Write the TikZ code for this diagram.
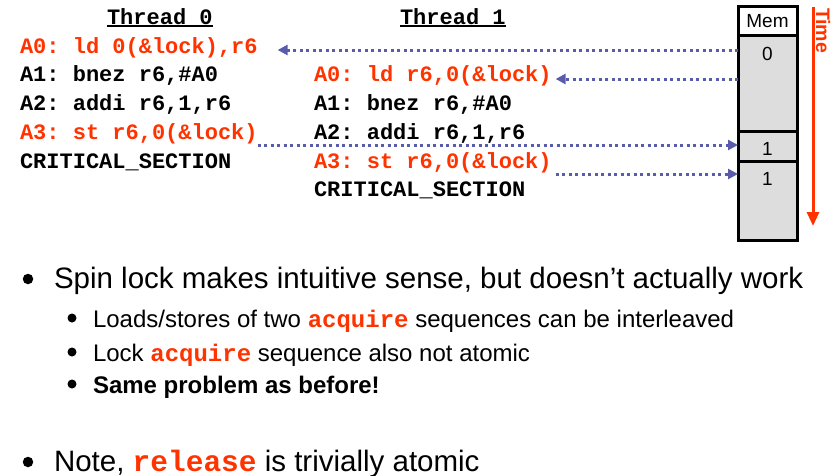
\documentclass[tikz,border=0pt]{standalone}
\usepackage{fontspec}
\setmainfont{Liberation Sans}
\setmonofont{Liberation Mono}
\usetikzlibrary{arrows.meta}

\definecolor{codered}{RGB}{255,51,0}
\definecolor{linkblue}{RGB}{88,92,170}
\definecolor{cellgray}{RGB}{221,221,221}

\newcommand{\kw}[1]{{\ttfamily\bfseries\color{codered}#1}}
\newcommand{\headrule}[1]{\setbox0\hbox{#1}\rlap{\rule[-3pt]{\wd0}{1.8pt}}\box0}

\begin{document}
\begin{tikzpicture}[x=1pt, y=-1pt,
    every node/.style={inner sep=0pt, outer sep=0pt},
    asm/.style={anchor=base west, font=\fontsize{22}{26}\selectfont\ttfamily\bfseries},
    hot/.style={asm, text=codered},
    memcell/.style={draw, line width=3pt, fill=cellgray, minimum width=59pt, anchor=north west},
    memval/.style={font=\fontsize{19}{22}\selectfont},
    memlink/.style={linkblue, line width=3pt, dash pattern=on 3pt off 3.5pt,
        -{Triangle[length=10pt,width=10pt]}},
    bigdot/.style={circle, fill=black, minimum size=10.5pt},
    smalldot/.style={circle, fill=black, minimum size=9pt},
    toptext/.style={anchor=base west, font=\fontsize{29.5}{34}\selectfont},
    subtext/.style={anchor=base west, font=\fontsize{24}{28}\selectfont}
]
\useasboundingbox (0,0) rectangle (840,475);

% thread headings
\node[asm] (h0) at (107,24) {\headrule{Thread 0}};
\node[asm] (h1) at (400,24) {\headrule{Thread 1}};

% thread 0 code
\node[hot] (t0a0) at (20,53) {A0: ld 0(\&lock),r6};
\node[asm] (t0a1) at (20,81.75) {A1: bnez r6,\#A0};
\node[asm] (t0a2) at (20,110.5) {A2: addi r6,1,r6};
\node[hot] (t0a3) at (20,139.25) {A3: st r6,0(\&lock)};
\node[asm] (t0cs) at (20,168) {CRITICAL\_SECTION};

% thread 1 code
\node[hot] (t1a0) at (314,81.75) {A0: ld r6,0(\&lock)};
\node[asm] (t1a1) at (314,110.5) {A1: bnez r6,\#A0};
\node[asm] (t1a2) at (314,139.25) {A2: addi r6,1,r6};
\node[hot] (t1a3) at (314,168) {A3: st r6,0(\&lock)};
\node[asm] (t1cs) at (314,196.75) {CRITICAL\_SECTION};

% memory column
\node[memcell, fill=white, minimum height=29pt, memval, text depth=-2pt] (mhdr) at (738,6) {Mem};
\node[memcell, minimum height=96pt] (m0) at (738,35) {};
\node[memcell, minimum height=30pt] (m1) at (738,131) {};
\node[memcell, minimum height=79pt] (m2) at (738,161) {};
\node[memval] (v0) at (767.5,53.5) {0};
\node[memval] (v1) at (767.5,148.5) {1};
\node[memval] (v2) at (767.5,178.5) {1};

% time axis
\coordinate (tstart) at (813,7);
\coordinate (tend) at (813,226);
\draw[codered, line width=3pt, -{Triangle[length=14pt,width=12pt]}] (tstart) -- (tend);
\node[anchor=base west, rotate=-90, text=codered, font=\fontsize{19.5}{22}\selectfont\bfseries] (tlabel) at (816,8) {Time};

% loads and stores
\coordinate (r0) at (738,50);
\coordinate (r1) at (738,79);
\coordinate (w0) at (738,145);
\coordinate (w1) at (738,174);
\coordinate (in0) at ([xshift=20pt]t0a0.east);
\coordinate (in1) at ([xshift=4pt]t1a0.east);
\coordinate (out1) at ([xshift=4pt]t1a3.east);
\draw[memlink] (r0) -- (in0 |- r0);
\draw[memlink] (r1) -- (in1 |- r1);
\draw[memlink] (t0a3.east |- w0) -- (w0);
\draw[memlink] (out1 |- w1) -- (w1);

% bullets
\node[bigdot] (b1) at (28,279) {};
\node[toptext] (s1) at (54,288) {Spin lock makes intuitive sense, but doesn’t actually work};
\node[smalldot] (b2) at (72,318) {};
\node[subtext] (s2) at (93,327) {Loads/stores of two \kw{acquire} sequences can be interleaved};
\node[smalldot] (b3) at (72,352) {};
\node[subtext] (s3) at (93,361) {Lock \kw{acquire} sequence also not atomic};
\node[smalldot] (b4) at (72,384) {};
\node[subtext, font=\fontsize{24}{28}\selectfont\bfseries] (s4) at (93,393) {Same problem as before!};
\node[bigdot] (b5) at (28,462) {};
\node[toptext] (s5) at (54,471) {Note, \kw{release} is trivially atomic};
\end{tikzpicture}
\end{document}
